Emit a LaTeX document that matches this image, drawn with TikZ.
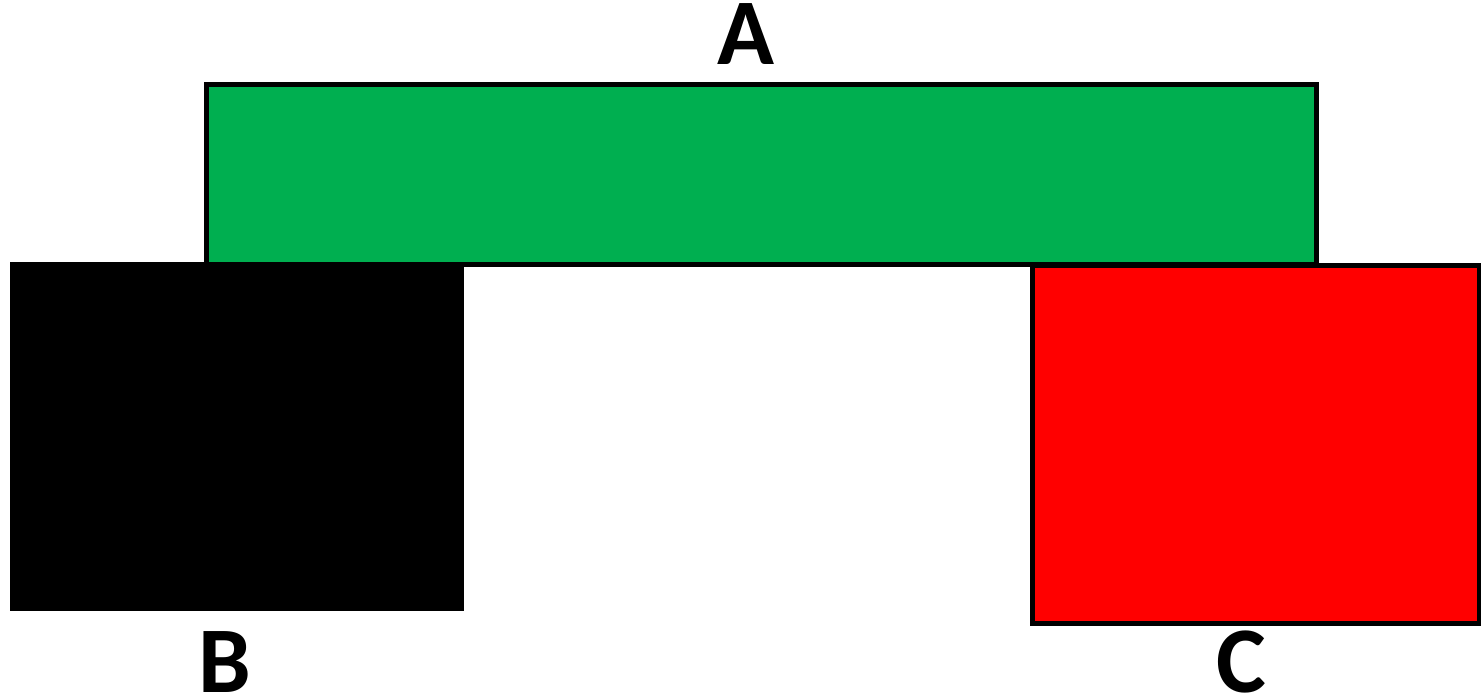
\documentclass[tikz,border=0pt]{standalone}
\usepackage{fontspec}
\setmainfont{Carlito}
\usetikzlibrary{positioning}
\definecolor{barGreen}{HTML}{00AF50}
\definecolor{barRed}{HTML}{FF0000}
\tikzset{
  blocklabel/.style={font=\fontsize{47}{50}\selectfont\bfseries,text=black,inner sep=0pt,anchor=base},
  blockline/.style={draw=black,line width=2.5pt}
}

\begin{document}
\begin{tikzpicture}[x=0.5pt,y=0.5pt]
\useasboundingbox (0,0) rectangle (1481,699);
\draw[fill=black,blockline] (12.5,434) rectangle (461,90.5);
\draw[fill=barGreen,blockline] (206.5,614.5) rectangle (1316,434.5);
\draw[fill=barRed,blockline] (1032,433.5) rectangle (1479,75);

\node[blocklabel] (labA) at (746,634) {A};
\node[blocklabel] (labB) at (225,6) {B};
\node[blocklabel] (labC) at (1241,6) {C};
\end{tikzpicture}
\end{document}
